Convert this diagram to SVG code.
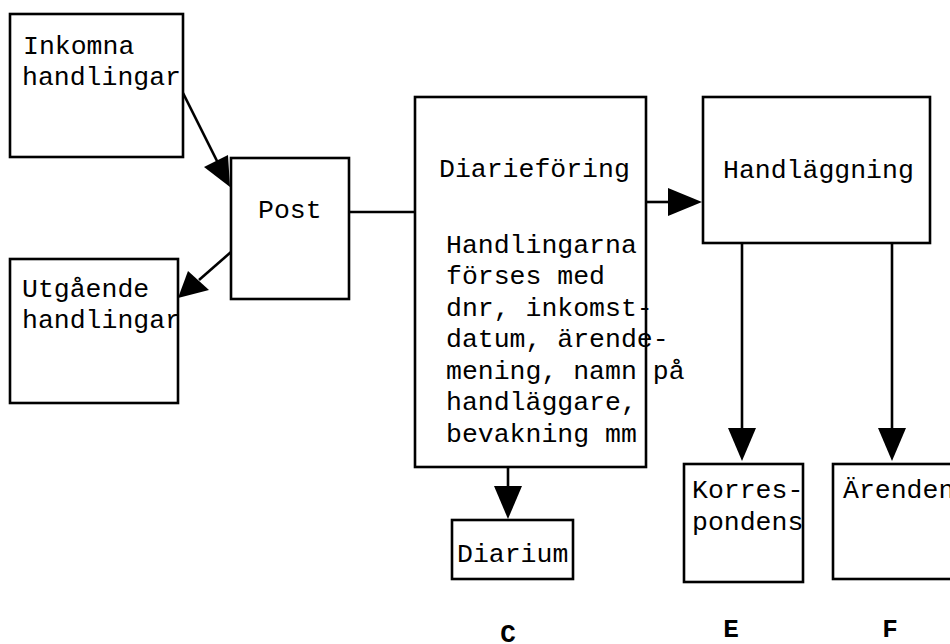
<svg xmlns="http://www.w3.org/2000/svg" width="950" height="644" viewBox="0 0 950 644">
<style>
.box{fill:#fff;stroke:#000;stroke-width:2.6}
.t{font-family:"Liberation Mono","Courier New",monospace;font-size:26.5px;fill:#000}
.lbl{font-family:"Liberation Mono","Courier New",monospace;font-size:26px;font-weight:bold;fill:#000;text-anchor:middle}
.ln{stroke:#000;stroke-width:2.6;fill:none}
</style>
<rect width="950" height="644" fill="#fff"/>
<g id="connectors">
<line class="ln" x1="183" y1="93" x2="218" y2="163"/>
<polygon points="230,187 204,167 228,155"/>
<line class="ln" x1="231" y1="252" x2="199" y2="280"/>
<polygon points="178,298 188,271 209,290"/>
<line class="ln" x1="347" y1="212" x2="415" y2="212"/>
<line class="ln" x1="645" y1="202" x2="672" y2="202"/>
<polygon points="702,202 668,188 668,216"/>
<line class="ln" x1="508" y1="466" x2="508" y2="490"/>
<polygon points="508,519 494,486 522,486"/>
<line class="ln" x1="742" y1="238" x2="742" y2="432"/>
<polygon points="742,461 728,428 756,428"/>
<line class="ln" x1="892" y1="240" x2="892" y2="432"/>
<polygon points="892,461 878,428 906,428"/>
</g>
<g id="inkomna">
<rect class="box" x="10" y="14" width="173" height="143"/>
<text class="t" x="23" y="54">Inkomna</text>
<text class="t" x="22" y="85">handlingar</text>
</g>
<g id="utgaende">
<rect class="box" x="10" y="259" width="168" height="144"/>
<text class="t" x="22" y="297">Utgående</text>
<text class="t" x="22" y="328">handlingar</text>
</g>
<g id="post">
<rect class="box" x="231" y="158" width="118" height="141"/>
<text class="t" x="258" y="218">Post</text>
</g>
<g id="diarieforing">
<rect class="box" x="415" y="97" width="231" height="370"/>
<text class="t" x="439" y="177">Diarieföring</text>
<text class="t" x="446" y="253">Handlingarna</text>
<text class="t" x="446" y="284">förses med</text>
<text class="t" x="446" y="316">dnr, inkomst-</text>
<text class="t" x="446" y="347">datum, ärende-</text>
<text class="t" x="446" y="379">mening, namn på</text>
<text class="t" x="446" y="410">handläggare,</text>
<text class="t" x="446" y="442">bevakning mm</text>
</g>
<g id="handlaggning">
<rect class="box" x="703" y="97" width="227" height="146"/>
<text class="t" x="723" y="178">Handläggning</text>
</g>
<g id="diarium">
<rect class="box" x="452" y="520" width="121" height="59"/>
<text class="t" x="457" y="562">Diarium</text>
</g>
<g id="korrespondens">
<rect class="box" x="684" y="464" width="119" height="118"/>
<text class="t" x="692" y="498">Korres-</text>
<text class="t" x="692" y="530">pondens</text>
</g>
<g id="arenden">
<rect class="box" x="833" y="464" width="130" height="115"/>
<text class="t" x="843" y="498">Ärenden</text>
</g>
<g id="labels">
<text class="lbl" x="508" y="642">C</text>
<text class="lbl" x="731" y="637">E</text>
<text class="lbl" x="890" y="637">F</text>
</g>
</svg>
